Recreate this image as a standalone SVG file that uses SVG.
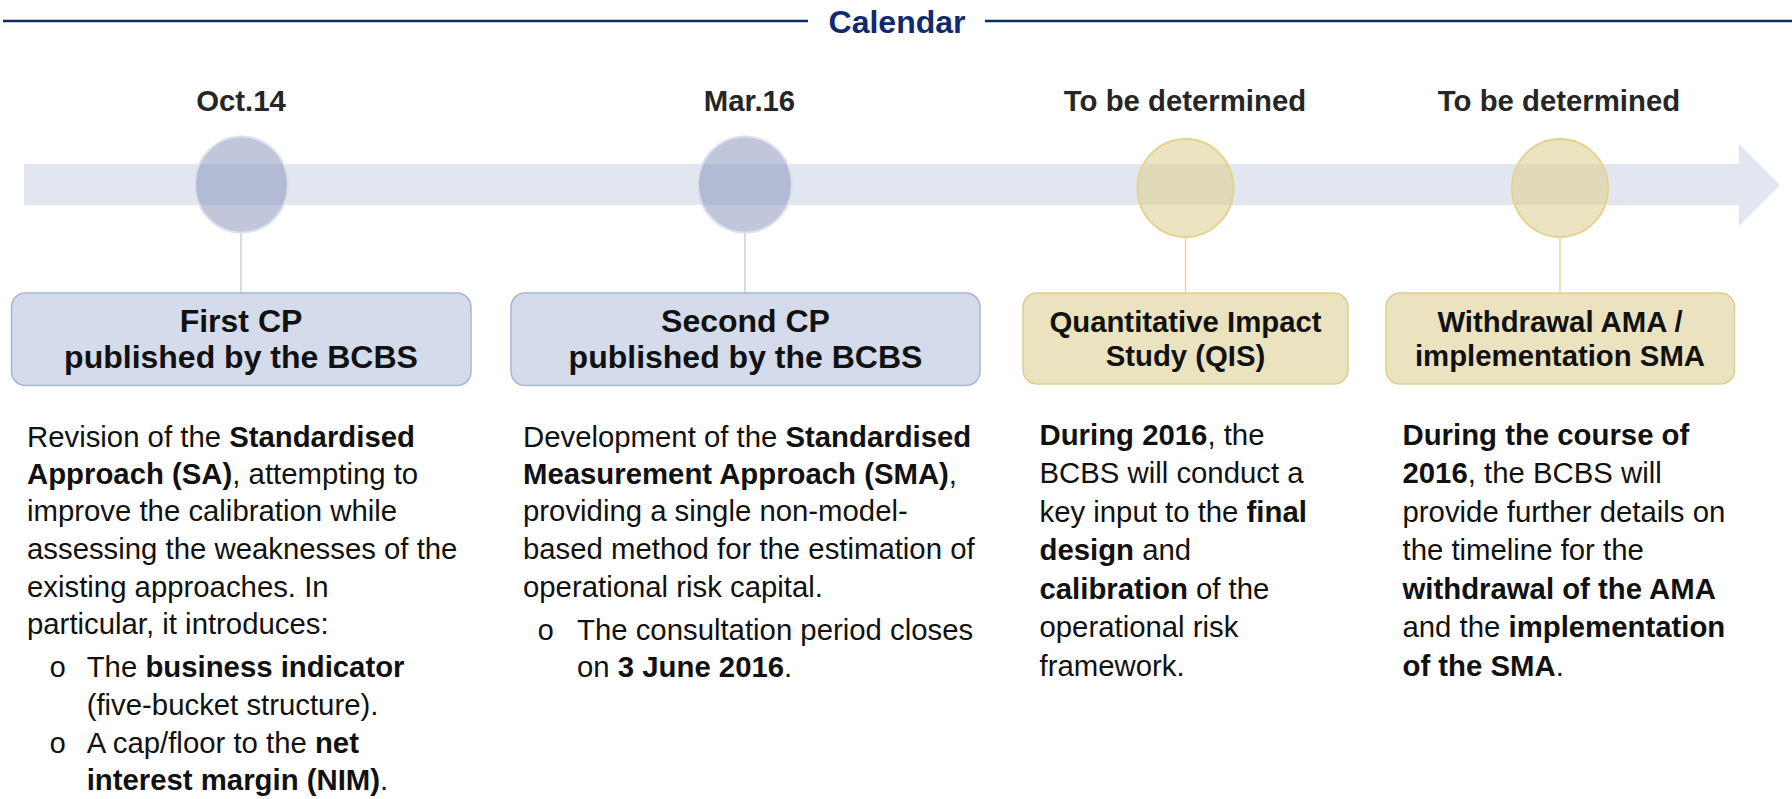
<svg xmlns="http://www.w3.org/2000/svg" width="1792" height="799" viewBox="0 0 1792 799">
  <style>
    text { font-family: "Liberation Sans", Arial, sans-serif; }
    .title { font-size: 32px; font-weight: bold; fill: #0f2a6e; }
    .date { font-size: 29.33px; font-weight: bold; fill: #262626; text-anchor: middle; }
    .boxlbl { font-weight: bold; fill: #111111; text-anchor: middle; }
    .body { font-size: 29.33px; fill: #111111; }
    .b { font-weight: bold; }
    .bullet { font-family: "Liberation Mono", "Courier New", monospace; font-size: 29px; fill: #111111; }
    .rule { stroke: #0f2a6e; stroke-width: 2.5; }
    .dot-blue { fill: #8994ba; fill-opacity: 0.53; stroke: #dde2ee; stroke-width: 2; }
    .dot-gold { fill: #dfd296; fill-opacity: 0.6; stroke: #e3d38f; stroke-width: 2; }
    .box-blue { fill: #d4dbea; stroke: #a8b5d2; stroke-width: 1.5; }
    .box-gold { fill: #ebe3bf; stroke: #dccf8e; stroke-width: 1.5; }
    .link-blue { stroke: #c8cedf; stroke-width: 1.5; }
    .link-gold { stroke: #e4d59c; stroke-width: 1.5; }
  </style>

  <!-- heading with rules either side -->
  <g id="heading">
    <line class="rule" x1="3" y1="21" x2="808" y2="21"/>
    <line class="rule" x1="985" y1="21" x2="1792" y2="21"/>
    <text class="title" x="897" y="33" text-anchor="middle">Calendar</text>
  </g>

  <!-- timeline band with arrowhead -->
  <g id="timeline">
    <polygon points="24,164 1739,164 1739,144 1780,185 1739,226 1739,205 24,205" fill="#e1e6f0"/>
  </g>

  <!-- connectors from milestones down to their boxes -->
  <g id="connectors">
    <line class="link-blue" x1="241" y1="233" x2="241" y2="293"/>
    <line class="link-blue" x1="745" y1="233" x2="745" y2="293"/>
    <line class="link-gold" x1="1185.5" y1="237" x2="1185.5" y2="293"/>
    <line class="link-gold" x1="1560" y1="237" x2="1560" y2="293"/>
  </g>

  <!-- milestone 1 -->
  <g id="m1">
    <text class="date" x="241" y="111">Oct.14</text>
    <ellipse class="dot-blue" cx="241.5" cy="184.5" rx="46.5" ry="48"/>
    <rect class="box-blue" x="11.5" y="293" width="459.5" height="92.5" rx="14"/>
    <text class="boxlbl" font-size="32" x="241" y="331.7">First CP</text>
    <text class="boxlbl" font-size="32" x="241" y="368.3">published by the BCBS</text>
  </g>

  <!-- milestone 2 -->
  <g id="m2">
    <text class="date" x="749.5" y="111">Mar.16</text>
    <ellipse class="dot-blue" cx="745" cy="184.5" rx="47" ry="48"/>
    <rect class="box-blue" x="511" y="293" width="469" height="92.5" rx="14"/>
    <text class="boxlbl" font-size="32" x="745.5" y="331.7">Second CP</text>
    <text class="boxlbl" font-size="32" x="745.5" y="368.3">published by the BCBS</text>
  </g>

  <!-- milestone 3 -->
  <g id="m3">
    <text class="date" x="1185" y="111">To be determined</text>
    <ellipse class="dot-gold" cx="1185.5" cy="188" rx="48" ry="49"/>
    <rect class="box-gold" x="1023" y="293" width="325" height="91" rx="14"/>
    <text class="boxlbl" font-size="29.33" x="1185.5" y="331.7">Quantitative Impact</text>
    <text class="boxlbl" font-size="29.33" x="1185.5" y="366">Study (QIS)</text>
  </g>

  <!-- milestone 4 -->
  <g id="m4">
    <text class="date" x="1559" y="111">To be determined</text>
    <ellipse class="dot-gold" cx="1560" cy="188" rx="48" ry="49"/>
    <rect class="box-gold" x="1386" y="293" width="348.5" height="91" rx="14"/>
    <text class="boxlbl" font-size="29.33" x="1560" y="331.7">Withdrawal AMA /</text>
    <text class="boxlbl" font-size="29.33" x="1560" y="366">implementation SMA</text>
  </g>

  <!-- description column 1 -->
  <g id="desc1" class="body">
    <text class="body" x="27" y="446.7">Revision of the <tspan class="b">Standardised</tspan></text>
    <text class="body" x="27" y="483.5"><tspan class="b">Approach (SA)</tspan>, attempting to</text>
    <text class="body" x="27" y="521">improve the calibration while</text>
    <text class="body" x="27" y="559">assessing the weaknesses of the</text>
    <text class="body" x="27" y="596.5">existing approaches. In</text>
    <text class="body" x="27" y="633.5">particular, it introduces:</text>
    <text class="bullet" x="49" y="677">o</text>
    <text class="body" x="86.7" y="677">The <tspan class="b">business indicator</tspan></text>
    <text class="body" x="86.7" y="715">(five-bucket structure).</text>
    <text class="bullet" x="49" y="753">o</text>
    <text class="body" x="86.7" y="753">A cap/floor to the <tspan class="b">net</tspan></text>
    <text class="body" x="86.7" y="790"><tspan class="b">interest margin (NIM)</tspan>.</text>
  </g>

  <!-- description column 2 -->
  <g id="desc2">
    <text class="body" x="523" y="446.7">Development of the <tspan class="b">Standardised</tspan></text>
    <text class="body" x="523" y="483.5"><tspan class="b">Measurement Approach (SMA)</tspan>,</text>
    <text class="body" x="523" y="521">providing a single non-model-</text>
    <text class="body" x="523" y="559">based method for the estimation of</text>
    <text class="body" x="523" y="596.5">operational risk capital.</text>
    <text class="bullet" x="537" y="640">o</text>
    <text class="body" x="577" y="640">The consultation period closes</text>
    <text class="body" x="577" y="677">on <tspan class="b">3 June 2016</tspan>.</text>
  </g>

  <!-- description column 3 -->
  <g id="desc3">
    <text class="body" x="1039.5" y="445"><tspan class="b">During 2016</tspan>, the</text>
    <text class="body" x="1039.5" y="483.3">BCBS will conduct a</text>
    <text class="body" x="1039.5" y="521.7">key input to the <tspan class="b">final</tspan></text>
    <text class="body" x="1039.5" y="560"><tspan class="b">design</tspan> and</text>
    <text class="body" x="1039.5" y="599">
      <tspan class="b">calibration</tspan> of the</text>
    <text class="body" x="1039.5" y="637.3">operational risk</text>
    <text class="body" x="1039.5" y="676">framework.</text>
  </g>

  <!-- description column 4 -->
  <g id="desc4">
    <text class="body" x="1402.5" y="445"><tspan class="b">During the course of</tspan></text>
    <text class="body" x="1402.5" y="483.3"><tspan class="b">2016</tspan>, the BCBS will</text>
    <text class="body" x="1402.5" y="521.7">provide further details on</text>
    <text class="body" x="1402.5" y="560">the timeline for the</text>
    <text class="body" x="1402.5" y="599"><tspan class="b">withdrawal of the AMA</tspan></text>
    <text class="body" x="1402.5" y="637.3">and the <tspan class="b">implementation</tspan></text>
    <text class="body" x="1402.5" y="676"><tspan class="b">of the SMA</tspan>.</text>
  </g>
</svg>
